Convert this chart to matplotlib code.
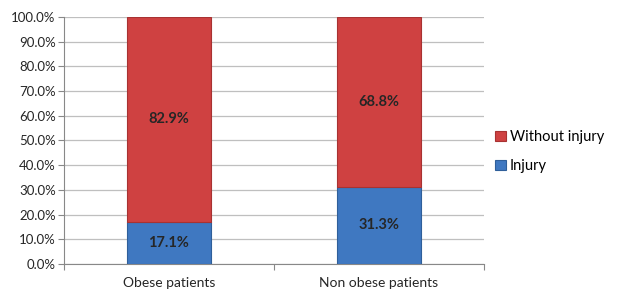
import matplotlib
matplotlib.use("Agg")
import matplotlib.pyplot as plt
import numpy as np
from matplotlib.ticker import FuncFormatter

plt.rcParams['font.family'] = ['Lato', 'DejaVu Sans']

categories = ["Obese patients", "Non obese patients"]
injury = [17.1, 31.3]
without_injury = [82.9, 68.8]

red = "#CF4141"
blue = "#3F78C1"

fig = plt.figure(figsize=(6.18, 2.89), dpi=100)
ax = fig.add_axes([0.1036, 0.0865, 0.679, 0.855])

x = np.arange(len(categories))
b1 = ax.bar(x, injury, 0.4, color=blue, edgecolor="#2F5F9A", linewidth=0.8, label="Injury", zorder=3)
b2 = ax.bar(x, without_injury, 0.4, bottom=injury, color=red, edgecolor="#A83232", linewidth=0.8,
            label="Without injury", zorder=3)

for i in range(len(x)):
    ax.text(x[i], injury[i] / 2, f"{injury[i]:.1f}%", ha="center", va="center",
            fontsize=10.5, fontweight="bold", color="#262626", zorder=4)
    ax.text(x[i], injury[i] + without_injury[i] / 2, f"{without_injury[i]:.1f}%", ha="center",
            va="center", fontsize=10.5, fontweight="bold", color="#262626", zorder=4)

ax.set_xlim(-0.5, 1.5)
ax.set_ylim(0, 100)
ax.set_yticks(np.arange(0, 101, 10))
ax.yaxis.set_major_formatter(FuncFormatter(lambda v, p: f"{v:.1f}%"))
ax.grid(axis="y", color="#BFBFBF", linewidth=0.9, zorder=0)
ax.set_xticks([-0.5, 0.5, 1.5])
ax.set_xticklabels([])
ax.set_xticks(x, minor=True)
ax.set_xticklabels(categories, minor=True)
ax.tick_params(axis="x", which="minor", length=0, pad=9, labelsize=10, labelcolor="#262626")
ax.tick_params(axis="x", which="major", length=4, color="#888888", direction="out")
ax.tick_params(axis="y", length=4, color="#888888", labelsize=9.5, labelcolor="#262626", pad=2)

for s in ["top", "right"]:
    ax.spines[s].set_visible(False)
ax.spines["left"].set_color("#888888")
ax.spines["bottom"].set_color("#888888")

handles = [b2, b1]
ax.legend(handles, ["Without injury", "Injury"], loc="center left", bbox_to_anchor=(1.0, 0.455),
          frameon=False, fontsize=10.5, handlelength=0.7, handleheight=0.7, handletextpad=0.3,
          labelspacing=1.0, borderaxespad=0.4)

fig.savefig("out.png", dpi=100)
